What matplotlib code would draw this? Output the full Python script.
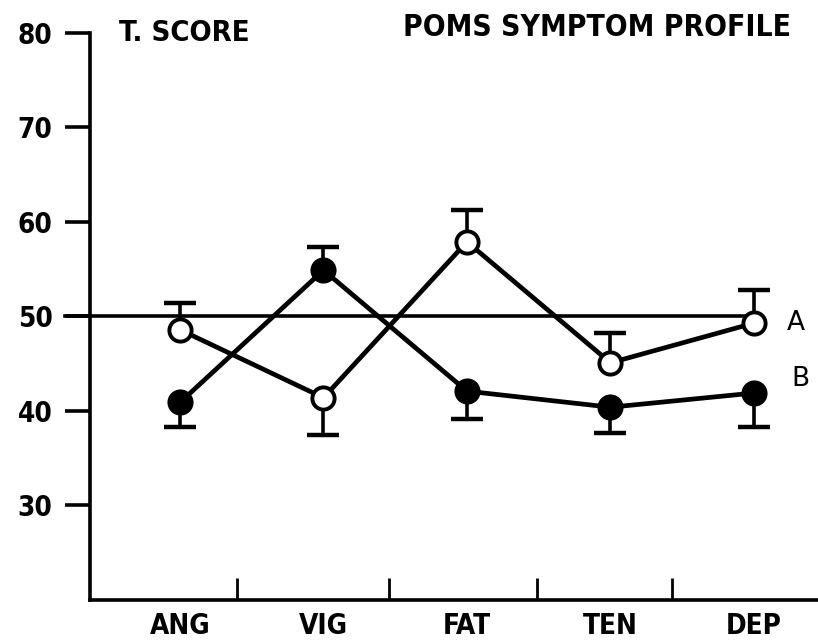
import matplotlib
matplotlib.use("Agg")
import matplotlib.pyplot as plt
import numpy as np

categories = ["ANG", "VIG", "FAT", "TEN", "DEP"]
group_a = [48.6, 41.4, 57.9, 45.1, 49.3]
group_a_err = [2.8, -3.9, 3.4, 3.1, 3.5]
group_b = [40.9, 54.9, 42.1, 40.4, 41.9]
group_b_err = [-2.6, 2.4, -3.0, -2.7, -3.6]
y_ticks = [30, 40, 50, 60, 70, 80]
separators = [1.40, 2.46, 3.49, 4.43]
norm_value = 50

FONT = dict(family="DejaVu Sans", weight="bold", stretch="condensed")

fig = plt.figure(figsize=(8.18, 6.43), dpi=100)
ax = fig.add_axes([0.110, 0.0669, 0.890, 0.8818])
x = np.arange(1, len(categories) + 1)
ax.set_xlim(0.373, 5.446)
ax.set_ylim(20, 80)

for s in ["top", "right"]:
    ax.spines[s].set_visible(False)
for s in ["left", "bottom"]:
    ax.spines[s].set_linewidth(2.6)
ax.spines["left"].set_bounds(20, 80)

# y ticks outward
ax.set_yticks(y_ticks)
ax.set_yticklabels([str(v) for v in y_ticks], fontsize=20, **FONT)
ax.tick_params(axis="y", direction="out", length=18, width=2.6, pad=9)

# x separators inward, labels as text
ax.set_xticks(separators)
ax.set_xticklabels([])
ax.tick_params(axis="x", direction="in", length=16, width=2.0)
for xi, lab in zip(x, categories):
    ax.text(xi, -0.022, lab, transform=ax.get_xaxis_transform(), ha="center",
            va="top", fontsize=20, **FONT)

# reference line at 50
ax.plot([0.20, 5.05], [norm_value, norm_value], color="black", lw=2.6,
        clip_on=False, zorder=2)

def draw_series(vals, errs, face):
    vals = np.array(vals)
    ends = vals + np.array(errs)
    ax.vlines(x, vals, ends, color="black", lw=2.6, zorder=2)
    ax.plot(x, ends, ls="none", marker="_", markersize=23, mew=3.2,
            color="black", zorder=2)
    ax.plot(x, vals, color="black", lw=3.4, zorder=3)
    ax.plot(x, vals, ls="none", marker="o", markersize=16, mew=2.8,
            mfc=face, mec="black", zorder=4)

draw_series(group_a, group_a_err, "white")
draw_series(group_b, group_b_err, "black")

ax.text(5.23, group_a[-1], "A", ha="left", va="center", fontsize=19,
        family="DejaVu Sans")
ax.text(5.26, 43.4, "B", ha="left", va="center", fontsize=19,
        family="DejaVu Sans")

fig.text(0.145, 0.948, "T. SCORE", ha="left", va="center", fontsize=21, **FONT)
fig.text(0.493, 0.958, "POMS SYMPTOM PROFILE", ha="left", va="center",
         fontsize=21.5, **FONT)

fig.savefig("out.png", dpi=100)
